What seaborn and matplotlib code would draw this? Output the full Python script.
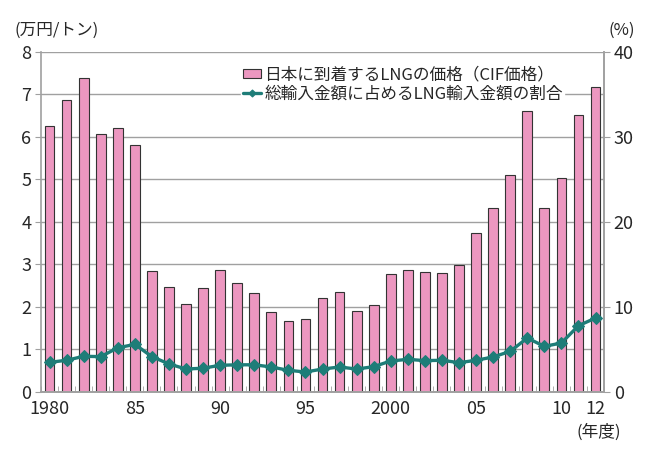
import numpy as np
import pandas as pd
import matplotlib
matplotlib.use("Agg")
import matplotlib.pyplot as plt
import seaborn as sns

years = list(range(1980, 2013))
lng_price = [6.27, 6.87, 7.39, 6.07, 6.21, 5.81, 2.85, 2.48, 2.06, 2.45,
             2.87, 2.56, 2.34, 1.89, 1.68, 1.72, 2.22, 2.36, 1.90, 2.05,
             2.77, 2.86, 2.82, 2.81, 2.99, 3.74, 4.33, 5.11, 6.61, 4.33,
             5.04, 6.52, 7.18]
lng_share = [3.49, 3.73, 4.20, 4.16, 5.20, 5.60, 4.16, 3.30, 2.70, 2.80,
             3.14, 3.20, 3.20, 2.94, 2.55, 2.35, 2.70, 2.94, 2.70, 2.98,
             3.65, 3.84, 3.69, 3.73, 3.45, 3.73, 4.12, 4.78, 6.35, 5.37,
             5.76, 7.80, 8.70]
tick_text = {1980: "1980", 1985: "85", 1990: "90", 1995: "95",
             2000: "2000", 2005: "05", 2010: "10", 2012: "12"}

bar_label = "日本に到着するLNGの価格（CIF価格）"
line_label = "総輸入金額に占めるLNG輸入金額の割合"

sns.set_style("white")
plt.rcParams['font.family'] = ['Noto Sans CJK JP', 'DejaVu Sans']

pink = "#EC97C0"
teal = "#1E7D78"
grey = "#a0a0a0"

df = pd.DataFrame({"year": [str(y) for y in years], "price": lng_price, "share": lng_share})

fig = plt.figure(figsize=(6.59, 4.61), dpi=100)
ax = fig.add_axes([0.0622, 0.1497, 0.8544, 0.7375])

sns.barplot(data=df, x="year", y="price", ax=ax, color=pink, width=0.57,
            edgecolor="#333333", linewidth=0.8, saturation=1, label=bar_label)
ax.set_ylim(0, 8)
ax.set_xlim(-0.5, len(years) - 0.5)
ax.set_yticks(range(0, 9))
ax.yaxis.grid(True, color=grey, linewidth=1.0)
ax.set_axisbelow(True)
ax.set_xlabel("")
ax.set_ylabel("")

ax2 = ax.twinx()
sns.lineplot(x=np.arange(len(years)), y=lng_share, ax=ax2, color=teal,
             linewidth=2.4, marker="D", markersize=6, markeredgecolor=teal,
             label=line_label)
ax2.set_ylim(0, 40)
ax2.set_yticks(range(0, 41, 10))
ax2.set_xlim(-0.5, len(years) - 0.5)

pos = [i for i, y in enumerate(years) if y in tick_text]
ax.set_xticks(pos)
ax.set_xticklabels([tick_text[years[i]] for i in pos])
ax.set_xticks(np.arange(-0.5, len(years), 1), minor=True)

for a in (ax, ax2):
    for s in a.spines.values():
        s.set_color(grey)
        s.set_linewidth(1.2)
    a.spines["top"].set_visible(False)
ax2.spines["left"].set_visible(False)

ax.tick_params(axis="y", which="major", direction="out", length=4, color=grey,
               labelsize=13, pad=3, left=True)
ax2.tick_params(axis="y", which="major", direction="out", length=4, color=grey,
                labelsize=13, pad=3, right=True)
ax.tick_params(axis="x", which="major", length=0, labelsize=13, pad=6)
ax.tick_params(axis="x", which="minor", direction="in", length=4, color=grey,
               bottom=True)

h1, l1 = ax.get_legend_handles_labels()
if ax.get_legend():
    ax.get_legend().remove()
h2, l2 = ax2.get_legend_handles_labels()
leg = ax2.legend(h1 + h2, l1 + l2, loc="upper left", bbox_to_anchor=(0.355, 0.962),
                 frameon=True, fancybox=False, framealpha=1, edgecolor="white",
                 fontsize=12, handlelength=1.1, handleheight=0.4, handletextpad=0.2,
                 borderpad=0.1, labelspacing=0.1, borderaxespad=0, markerscale=0.6)

fig.text(0.022, 0.935, "(万円/トン)", fontsize=12, ha="left", va="center")
fig.text(0.943, 0.935, "(%)", fontsize=12, ha="center", va="center")
fig.text(0.908, 0.063, "(年度)", fontsize=12, ha="center", va="center")

fig.savefig("out.png", dpi=100)
